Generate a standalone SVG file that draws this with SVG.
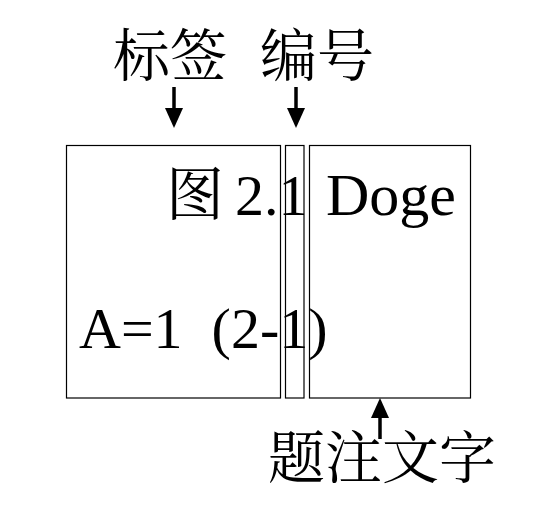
<svg xmlns="http://www.w3.org/2000/svg" width="545" height="524" viewBox="0 0 545 524">
  <style>
    .t { font-family: "Liberation Serif", "Noto Serif CJK SC", "Noto Sans CJK SC", serif; fill: #000; }
    .lbl { font-size: 57px; }
    .body { font-size: 58px; }
    .box { fill: none; stroke: #000; stroke-width: 1.2; }
    .arr { stroke: #000; stroke-width: 3.5; fill: none; }
  </style>
  <defs>
    <marker id="head" viewBox="0 0 20 18" refX="0" refY="9" markerWidth="20" markerHeight="18" markerUnits="userSpaceOnUse" orient="auto">
      <path d="M0,0 L20,9 L0,18 z" fill="#000"/>
    </marker>
  </defs>

  <g id="label-title">
    <text class="t lbl" x="113" y="76">标签</text>
  </g>
  <g id="number-title">
    <text class="t lbl" x="260" y="76">编号</text>
  </g>

  <g id="box-label">
    <rect class="box" x="66.5" y="145.5" width="214" height="252.5"/>
  </g>
  <g id="box-number">
    <rect class="box" x="285.5" y="145.5" width="18.5" height="252.5"/>
  </g>
  <g id="box-caption">
    <rect class="box" x="309.5" y="145.5" width="161" height="252.5"/>
  </g>

  <g id="content">
    <text class="t body" x="166" y="215">图<tspan x="235">2.1</tspan><tspan x="326" style="font-size:60px">Doge</tspan></text>
    <text class="t body" x="79" y="348" xml:space="preserve" style="white-space:pre">A=1  (2-1)</text>
  </g>

  <g id="caption-title">
    <text class="t lbl" x="268" y="478">题注文字</text>
  </g>

  <g id="connectors">
    <line class="arr" x1="174" y1="87" x2="174" y2="108" marker-end="url(#head)"/>
    <line class="arr" x1="296" y1="87" x2="296" y2="108" marker-end="url(#head)"/>
    <line class="arr" x1="380" y1="439" x2="380" y2="418" marker-end="url(#head)"/>
  </g>
</svg>
